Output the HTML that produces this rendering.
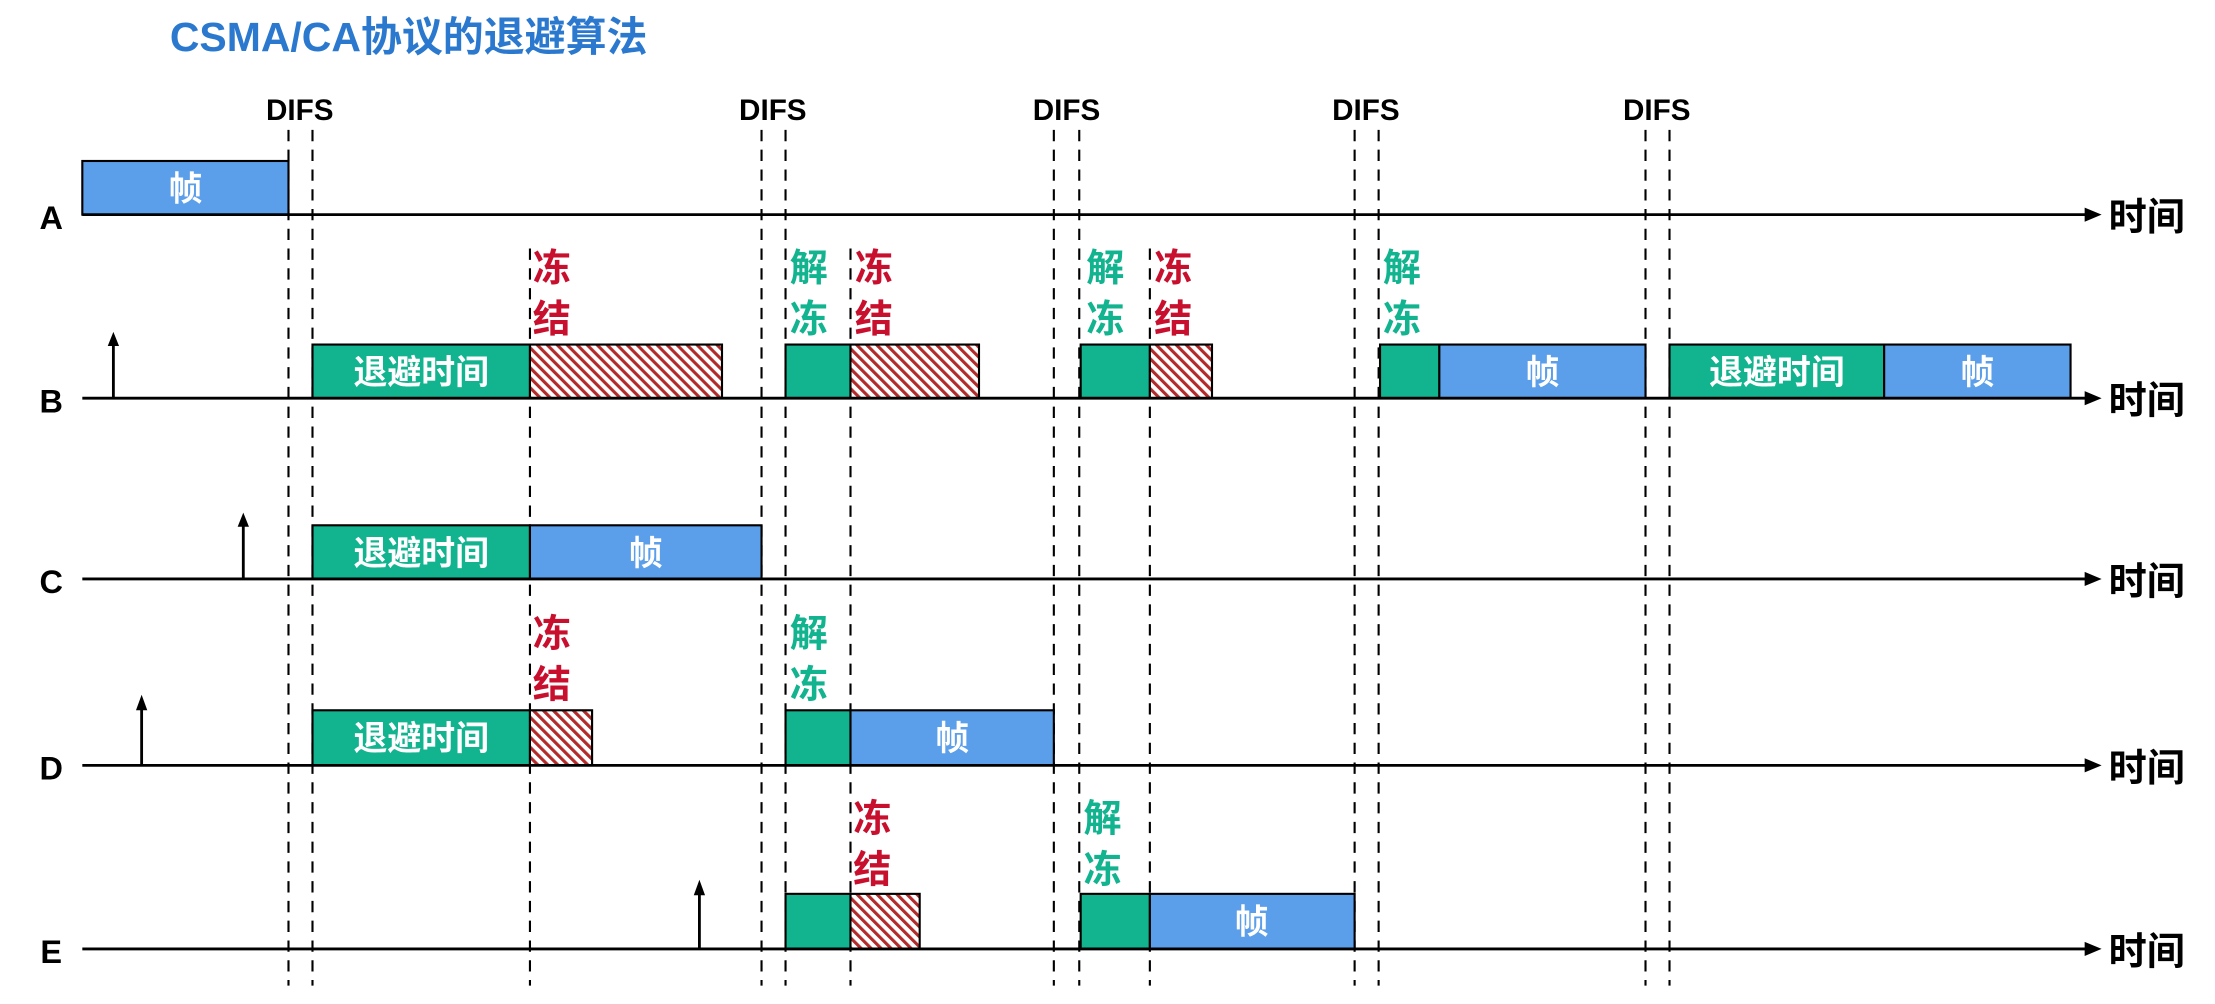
<!DOCTYPE html>
<html><head><meta charset="utf-8"><style>
html,body{margin:0;padding:0;background:#fff;}
svg{display:block;}
text{font-family:"Liberation Sans","Noto Sans CJK SC",sans-serif;font-weight:bold;}
</style></head><body>
<svg width="2215" height="1004" viewBox="0 0 1568 711" xmlns="http://www.w3.org/2000/svg">
<defs>
<pattern id="h" width="5" height="5" patternUnits="userSpaceOnUse" patternTransform="rotate(-45)">
<rect width="5" height="5" fill="#fff"/><rect width="2.2" height="5" fill="#b22a2a"/>
</pattern>
</defs>
<rect width="1568" height="711" fill="#fff"/>
<text x="120" y="36" font-size="29" fill="#2b78cf">CSMA/CA协议的退避算法</text>

<g font-size="21" text-anchor="middle" fill="#000">
<text x="212" y="85">DIFS</text><text x="547" y="85">DIFS</text><text x="755" y="85">DIFS</text><text x="967" y="85">DIFS</text><text x="1173" y="85">DIFS</text>
</g>
<g stroke="#000" stroke-width="1.5" stroke-dasharray="8,6">
<line x1="204" y1="92" x2="204" y2="698"/><line x1="221" y1="92" x2="221" y2="698"/>
<line x1="539" y1="92" x2="539" y2="698"/><line x1="556" y1="92" x2="556" y2="698"/>
<line x1="746" y1="92" x2="746" y2="698"/><line x1="764" y1="92" x2="764" y2="698"/>
<line x1="959" y1="92" x2="959" y2="698"/><line x1="976" y1="92" x2="976" y2="698"/>
<line x1="1165" y1="92" x2="1165" y2="698"/><line x1="1182" y1="92" x2="1182" y2="698"/>
<line x1="375" y1="176" x2="375" y2="698"/><line x1="602" y1="176" x2="602" y2="698"/><line x1="814" y1="176" x2="814" y2="698"/>
</g>

<g stroke="#000" stroke-width="1.5">
<rect x="58" y="114" width="146" height="38" fill="#5b9ee9"/>
<rect x="221" y="244" width="154" height="38" fill="#12b38f"/>
<rect x="375" y="244" width="136" height="38" fill="url(#h)"/>
<rect x="556" y="244" width="46" height="38" fill="#12b38f"/>
<rect x="602" y="244" width="91" height="38" fill="url(#h)"/>
<rect x="765" y="244" width="49" height="38" fill="#12b38f"/>
<rect x="814" y="244" width="44" height="38" fill="url(#h)"/>
<rect x="977" y="244" width="42" height="38" fill="#12b38f"/>
<rect x="1019" y="244" width="146" height="38" fill="#5b9ee9"/>
<rect x="1182" y="244" width="152" height="38" fill="#12b38f"/>
<rect x="1334" y="244" width="132" height="38" fill="#5b9ee9"/>
<rect x="221" y="372" width="154" height="38" fill="#12b38f"/>
<rect x="375" y="372" width="164" height="38" fill="#5b9ee9"/>
<rect x="221" y="503" width="154" height="39" fill="#12b38f"/>
<rect x="375" y="503" width="44" height="39" fill="url(#h)"/>
<rect x="556" y="503" width="46" height="39" fill="#12b38f"/>
<rect x="602" y="503" width="144" height="39" fill="#5b9ee9"/>
<rect x="556" y="633" width="46" height="39" fill="#12b38f"/>
<rect x="602" y="633" width="49" height="39" fill="url(#h)"/>
<rect x="765" y="633" width="49" height="39" fill="#12b38f"/>
<rect x="814" y="633" width="145" height="39" fill="#5b9ee9"/>
</g>
<g font-size="24" fill="#fff" text-anchor="middle">
<text x="131" y="142">帧</text>
<text x="298" y="272">退避时间</text><text x="1092" y="272">帧</text><text x="1258" y="272">退避时间</text><text x="1400" y="272">帧</text>
<text x="298" y="400">退避时间</text><text x="457" y="400">帧</text>
<text x="298" y="531">退避时间</text><text x="674" y="531">帧</text>
<text x="886" y="661">帧</text>
</g>

<g stroke="#000" stroke-width="2">
<line x1="58" y1="152" x2="1478" y2="152"/><line x1="58" y1="282" x2="1478" y2="282"/>
<line x1="58" y1="410" x2="1478" y2="410"/><line x1="58" y1="542" x2="1478" y2="542"/>
<line x1="58" y1="672" x2="1478" y2="672"/>
</g>
<g fill="#000">
<polygon points="1476,147 1488,152 1476,157"/><polygon points="1476,277 1488,282 1476,287"/>
<polygon points="1476,405 1488,410 1476,415"/><polygon points="1476,537 1488,542 1476,547"/>
<polygon points="1476,667 1488,672 1476,677"/>
</g>
<g font-size="27" fill="#000">
<text x="1493" y="163">时间</text><text x="1493" y="293">时间</text><text x="1493" y="421">时间</text><text x="1493" y="553">时间</text><text x="1493" y="683">时间</text>
</g>
<g font-size="23" fill="#000" text-anchor="middle">
<text x="36" y="162">A</text><text x="36" y="292">B</text><text x="36" y="420">C</text><text x="36" y="552">D</text><text x="36" y="682">E</text>
</g>
<g stroke="#000" stroke-width="2">
<line x1="80" y1="282" x2="80" y2="242"/>
<line x1="172" y1="410" x2="172" y2="370"/>
<line x1="100" y1="542" x2="100" y2="500"/>
<line x1="495" y1="672" x2="495" y2="631"/>
</g>
<g fill="#000">
<polygon points="76,245 80,235 84,245"/>
<polygon points="168,373 172,363 176,373"/>
<polygon points="96,503 100,492 104,503"/>
<polygon points="491,634 495,623 499,634"/>
</g>

<g font-size="27" fill="#c8102e">
<text x="377" y="199">冻</text><text x="377" y="235">结</text>
<text x="605" y="199">冻</text><text x="605" y="235">结</text>
<text x="817" y="199">冻</text><text x="817" y="235">结</text>
<text x="377" y="458">冻</text><text x="377" y="494">结</text>
<text x="604" y="589">冻</text><text x="604" y="625">结</text>
</g>
<g font-size="27" fill="#12b38f">
<text x="559" y="199">解</text><text x="559" y="235">冻</text>
<text x="769" y="199">解</text><text x="769" y="235">冻</text>
<text x="979" y="199">解</text><text x="979" y="235">冻</text>
<text x="559" y="458">解</text><text x="559" y="494">冻</text>
<text x="767" y="589">解</text><text x="767" y="625">冻</text>
</g>
</svg>
</body></html>
